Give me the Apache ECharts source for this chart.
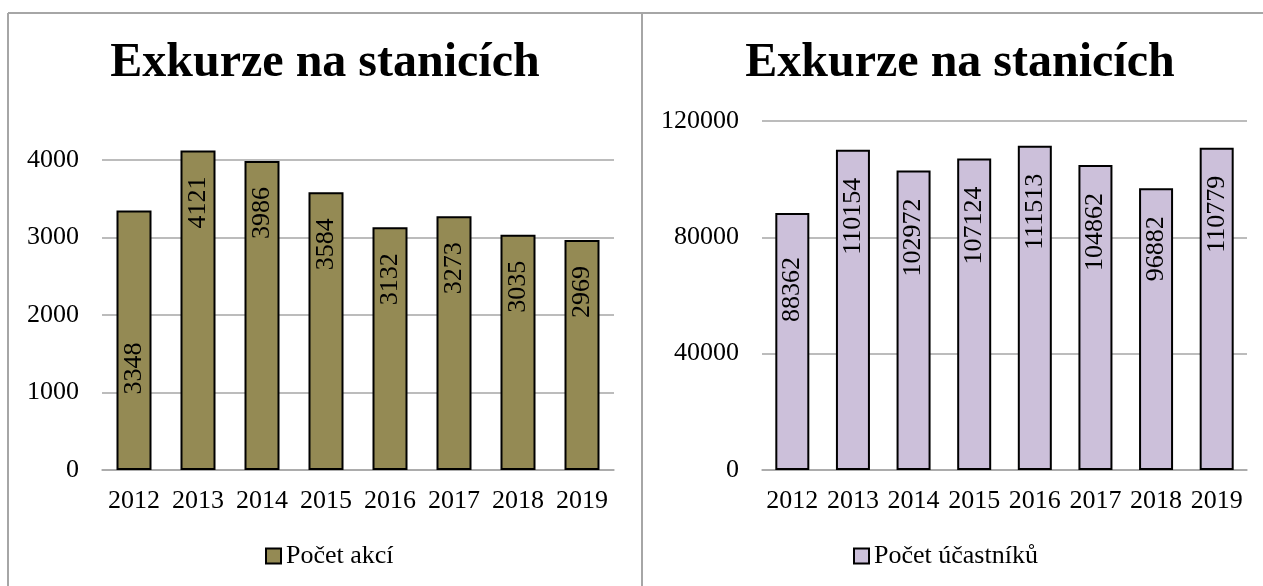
<!DOCTYPE html>
<html>
<head>
<meta charset="utf-8">
<script src="https://cdn.jsdelivr.net/npm/echarts@6/dist/echarts.min.js"></script>
<style>
html,body{margin:0;padding:0;background:#fff;}
#chart{width:1263px;height:586px;}
</style>
</head>
<body>
<div id="chart"></div>
<script>
const categories = ['2012','2013','2014','2015','2016','2017','2018','2019'];
const pocetAkci = [3348, 4121, 3986, 3584, 3132, 3273, 3035, 2969];
const pocetUcastniku = [88362, 110154, 102972, 107124, 111513, 104862, 96882, 110779];
const titleText = 'Exkurze na stanicích';
const leftSeriesName = 'Počet akcí';
const rightSeriesName = 'Počet účastníků';

const FONT = '"Liberation Serif", "Times New Roman", serif';
const GRID_COLOR = '#a6a6a6';

const chart = echarts.init(document.getElementById('chart'), null, {renderer: 'canvas'});

function labelCfg(distance) {
  return {
    show: true, position: 'insideTop', rotate: 90, align: 'right', verticalAlign: 'middle',
    distance: distance, fontSize: 26, fontFamily: FONT, color: '#000'
  };
}
function xAxisCfg(gridIndex) {
  return {
    type: 'category', gridIndex: gridIndex, data: categories,
    axisLine: {lineStyle: {color: GRID_COLOR, width: 1.5}},
    axisTick: {show: false},
    axisLabel: {fontSize: 26, fontFamily: FONT, color: '#000', margin: 18, interval: 0}
  };
}
function yAxisCfg(gridIndex, max, interval) {
  return {
    type: 'value', gridIndex: gridIndex, min: 0, max: max, interval: interval,
    axisLine: {show: false}, axisTick: {show: false},
    splitLine: {lineStyle: {color: GRID_COLOR, width: 1.5}},
    axisLabel: {fontSize: 26, fontFamily: FONT, color: '#000', margin: 23,
                formatter: v => String(v)}
  };
}

const option = {
  animation: false,
  backgroundColor: '#fff',
  title: [
    {text: titleText, left: 325, top: 40, textAlign: 'center', padding: 0,
     textStyle: {fontSize: 48, fontWeight: 'bold', fontFamily: FONT, color: '#000'}},
    {text: titleText, left: 960, top: 40, textAlign: 'center', padding: 0,
     textStyle: {fontSize: 48, fontWeight: 'bold', fontFamily: FONT, color: '#000'}}
  ],
  legend: [
    {data: [leftSeriesName], top: 543, padding: 0, icon: 'rect',
     itemWidth: 15, itemHeight: 15, selectedMode: false,
     textStyle: {fontSize: 26, fontFamily: FONT, color: '#000'},
     left: 265},
    {data: [rightSeriesName], top: 543, padding: 0, icon: 'rect',
     itemWidth: 15, itemHeight: 15, selectedMode: false,
     textStyle: {fontSize: 26, fontFamily: FONT, color: '#000'},
     left: 853}
  ],
  grid: [
    {left: 102, top: 160, width: 512, height: 310, containLabel: false},
    {left: 762, top: 121, width: 485, height: 349, containLabel: false}
  ],
  xAxis: [xAxisCfg(0), xAxisCfg(1)],
  yAxis: [yAxisCfg(0, 4000, 1000), yAxisCfg(1, 120000, 40000)],
  series: [
    {
      name: leftSeriesName, type: 'bar', xAxisIndex: 0, yAxisIndex: 0,
      clip: false, barWidth: 35,
      itemStyle: {color: '#948A54', borderColor: '#000', borderWidth: 2},
      label: labelCfg(26),
      data: pocetAkci.map((v, i) => i === 0 ? {value: v, label: {distance: 132}} : v)
    },
    {
      name: rightSeriesName, type: 'bar', xAxisIndex: 1, yAxisIndex: 1,
      clip: false, barWidth: 34,
      itemStyle: {color: '#CCC0DA', borderColor: '#000', borderWidth: 2},
      label: labelCfg(28),
      data: pocetUcastniku.map((v, i) => i === 0 ? {value: v, label: {distance: 44}} : v)
    }
  ],
  graphic: [
    {type: 'line', shape: {x1: 8, y1: 13, x2: 1263, y2: 13}, style: {stroke: '#a6a6a6', lineWidth: 2}, silent: true},
    {type: 'line', shape: {x1: 8, y1: 13, x2: 8, y2: 586}, style: {stroke: '#a6a6a6', lineWidth: 2}, silent: true},
    {type: 'line', shape: {x1: 642, y1: 13, x2: 642, y2: 586}, style: {stroke: '#a6a6a6', lineWidth: 2}, silent: true}
  ]
};
chart.setOption(option);
</script>
</body>
</html>
